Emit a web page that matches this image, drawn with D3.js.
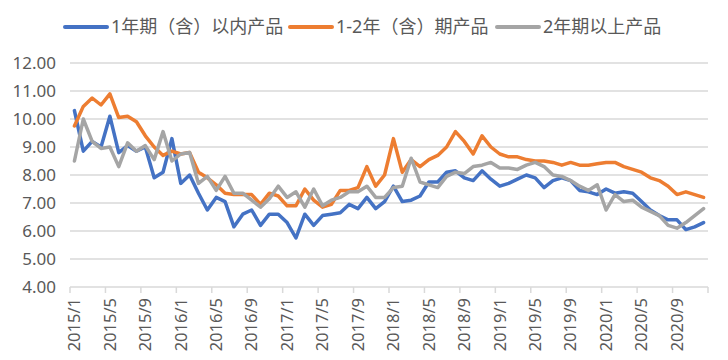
<!DOCTYPE html>
<html><head><meta charset="utf-8">
<script src="https://cdn.jsdelivr.net/npm/d3@7"></script>
<style>
html,body{margin:0;padding:0;background:#fff;}
svg{display:block;}
</style></head>
<body>
<svg id="chart" width="728" height="360"></svg>
<script>
const months = [];
for (let yr = 2015; yr <= 2020; yr++) for (let m = 1; m <= 12; m++) months.push(yr + "/" + m);

const seriesNames = ["1年期（含）以内产品", "1-2年（含）期产品", "2年期以上产品"];
const seriesColors = ["#4472C4", "#ED7D31", "#A5A5A5"];

const blue = [10.3, 8.85, 9.2, 9.0, 10.1, 8.8, 9.05, 8.85, 9.0, 7.9, 8.1, 9.3,
  7.7, 8.0, 7.35, 6.75, 7.2, 7.05, 6.15, 6.6, 6.75, 6.2, 6.6, 6.6,
  6.3, 5.75, 6.6, 6.2, 6.55, 6.6, 6.65, 6.95, 6.8, 7.2, 6.8, 7.05,
  7.6, 7.05, 7.1, 7.25, 7.75, 7.75, 8.1, 8.15, 7.9, 7.8, 8.15, 7.85,
  7.6, 7.7, 7.85, 8.0, 7.9, 7.55, 7.8, 7.9, 7.8, 7.45, 7.4, 7.3,
  7.5, 7.35, 7.4, 7.35, 7.05, 6.75, 6.55, 6.4, 6.4, 6.05, 6.15, 6.3];
const orange = [9.75, 10.45, 10.75, 10.5, 10.9, 10.05, 10.1, 9.9, 9.4, 9.0, 8.7, 8.85,
  8.75, 8.8, 8.1, 7.9, 7.65, 7.35, 7.3, 7.3, 7.3, 6.95, 7.35, 7.25,
  6.9, 6.9, 7.5, 7.1, 6.85, 6.95, 7.45, 7.45, 7.55, 8.3, 7.6, 8.0,
  9.3, 8.1, 8.55, 8.3, 8.55, 8.7, 9.0, 9.55, 9.2, 8.75, 9.4, 9.0,
  8.75, 8.65, 8.65, 8.55, 8.5, 8.5, 8.45, 8.35, 8.45, 8.35, 8.35, 8.4,
  8.45, 8.45, 8.3, 8.2, 8.1, 7.9, 7.8, 7.6, 7.3, 7.4, 7.3, 7.2];
const gray = [8.5, 10.0, 9.2, 8.95, 9.0, 8.3, 9.15, 8.85, 9.05, 8.55, 9.55, 8.5,
  8.75, 8.8, 7.7, 7.95, 7.45, 7.95, 7.35, 7.35, 7.1, 6.85, 7.15, 7.6,
  7.2, 7.4, 6.85, 7.5, 6.9, 7.1, 7.2, 7.4, 7.4, 7.6, 7.2, 7.2,
  7.55, 7.6, 8.6, 7.75, 7.65, 7.55, 7.95, 8.1, 8.05, 8.3, 8.35, 8.45,
  8.25, 8.25, 8.2, 8.35, 8.45, 8.3, 8.0, 7.95, 7.8, 7.6, 7.45, 7.65,
  6.75, 7.3, 7.05, 7.1, 6.85, 6.7, 6.55, 6.2, 6.1, 6.3, 6.55, 6.8];
const yTicks = [4, 5, 6, 7, 8, 9, 10, 11, 12];
const xLabels = months.filter((d, i) => i % 4 === 0);

const series = [blue, orange, gray];

const svg = d3.select("#chart");
const mLeft = 70, mRight = 708, mTop = 63, mBottom = 287;

const x = d3.scaleBand().domain(months).range([mLeft, mRight]).padding(0);
const y = d3.scaleLinear().domain([4, 12]).range([mBottom, mTop]);

const txt = "#595959", gridC = "#d9d9d9";
const font = "'Noto Sans', 'Noto Sans CJK SC', sans-serif";

// gridlines
svg.append("g").selectAll("line").data(yTicks.filter(d => d > 4)).join("line")
  .attr("x1", mLeft).attr("x2", mRight)
  .attr("y1", d => y(d)).attr("y2", d => y(d))
  .attr("stroke", gridC).attr("stroke-width", 1.5);

// y labels
svg.append("g").selectAll("text").data(yTicks).join("text")
  .attr("x", 56).attr("y", d => y(d)).attr("dy", "0.35em")
  .attr("text-anchor", "end").attr("fill", txt)
  .attr("font-family", font).attr("font-size", 17)
  .text(d => d.toFixed(2));

// x axis line & ticks
svg.append("line").attr("x1", mLeft).attr("x2", mRight)
  .attr("y1", mBottom).attr("y2", mBottom)
  .attr("stroke", gridC).attr("stroke-width", 1.5);
const tickIdx = d3.range(0, months.length + 1, 4);
svg.append("g").selectAll("line").data(tickIdx).join("line")
  .attr("x1", i => i < months.length ? x(months[i]) : mRight)
  .attr("x2", i => i < months.length ? x(months[i]) : mRight)
  .attr("y1", mBottom).attr("y2", mBottom + 6)
  .attr("stroke", gridC).attr("stroke-width", 1.5);

// x labels rotated
svg.append("g").selectAll("text").data(xLabels).join("text")
  .attr("transform", d => `translate(${x(d) + x.bandwidth() / 2},${mBottom + 11}) rotate(-90)`)
  .attr("text-anchor", "end").attr("dy", "0.35em")
  .attr("fill", txt).attr("font-family", font).attr("font-size", 16.5)
  .text(d => d);

// lines
const line = d3.line()
  .x((d, i) => x(months[i]) + x.bandwidth() / 2)
  .y(d => y(d));
svg.append("g").selectAll("path").data(series).join("path")
  .attr("d", d => line(d))
  .attr("fill", "none")
  .attr("stroke", (d, i) => seriesColors[i])
  .attr("stroke-width", 3.5)
  .attr("stroke-linejoin", "round")
  .attr("stroke-linecap", "round");

// legend
const legX = [65, 290, 497];
const lg = svg.append("g");
seriesNames.forEach((n, i) => {
  lg.append("line").attr("x1", legX[i]).attr("x2", legX[i] + 42)
    .attr("y1", 27).attr("y2", 27)
    .attr("stroke", seriesColors[i]).attr("stroke-width", 4).attr("stroke-linecap", "round");
  lg.append("text").attr("x", legX[i] + 46).attr("y", 27).attr("dy", "0.35em")
    .attr("fill", txt).attr("font-family", font).attr("font-size", 18)
    .text(n);
});
</script>
</body></html>
